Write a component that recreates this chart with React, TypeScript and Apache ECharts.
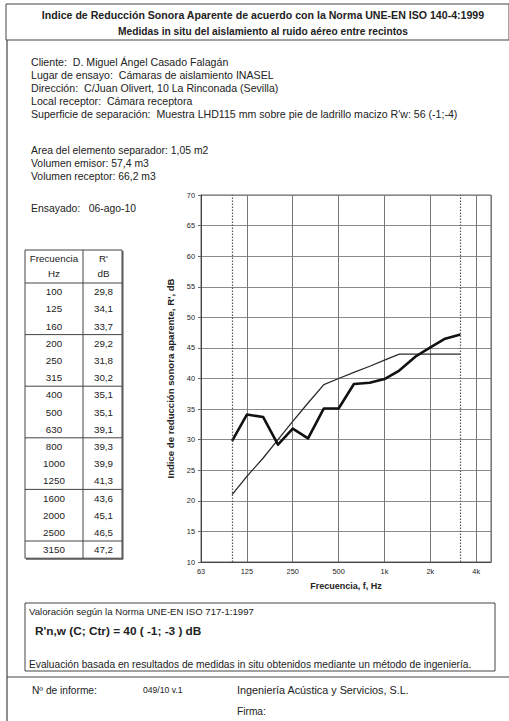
import React, { useEffect, useRef } from "react";
import * as echarts from "echarts";

const freqs = [100, 125, 160, 200, 250, 315, 400, 500, 630, 800, 1000, 1250, 1600, 2000, 2500, 3150];
const measured = [29.8, 34.1, 33.7, 29.2, 31.8, 30.2, 35.1, 35.1, 39.1, 39.3, 39.9, 41.3, 43.6, 45.1, 46.5, 47.2];
const reference = [21, 24, 27, 30, 33, 36, 39, 40, 41, 42, 43, 44, 44, 44, 44, 44];
const octaveLabels = ["63", "125", "250", "500", "1k", "2k", "4k"];
const rangeMarks = [100, 3150];

const titleLines = [
  "Indice de Reducción Sonora Aparente de acuerdo con la Norma UNE-EN ISO 140-4:1999",
  "Medidas in situ del aislamiento al ruido aéreo entre recintos",
];
const infoLines = [
  "Cliente:  D. Miguel Ángel Casado Falagán",
  "Lugar de ensayo:  Cámaras de aislamiento INASEL",
  "Dirección:  C/Juan Olivert, 10 La Rinconada (Sevilla)",
  "Local receptor:  Cámara receptora",
  "Superficie de separación:  Muestra LHD115 mm sobre pie de ladrillo macizo R'w: 56 (-1;-4)",
];
const volumeLines = [
  "Area del elemento separador: 1,05 m2",
  "Volumen emisor: 57,4 m3",
  "Volumen receptor: 66,2 m3",
];
const testDate = "Ensayado:   06-ago-10";

const FONT = "'Liberation Sans', Arial, sans-serif";
const INK = "#222";

const toX = (f: number) => Math.log2(f / 62.5);
const fmt = (v: number) => v.toFixed(1).replace(".", ",");

function txt(text: string, x: number, y: number, size: number, opts: any = {}) {
  return {
    type: "text",
    x,
    y,
    silent: true,
    style: {
      text,
      font: `${opts.bold ? "bold " : ""}${size}px ${FONT}`,
      fill: opts.fill || INK,
      align: opts.align || "left",
      verticalAlign: "middle",
    },
  };
}
function ln(x1: number, y1: number, x2: number, y2: number, w = 1, color = "#444") {
  return {
    type: "line",
    silent: true,
    shape: { x1, y1, x2, y2 },
    style: { stroke: color, lineWidth: w },
  };
}

export default function App() {
  const ref = useRef<HTMLDivElement>(null);
  useEffect(() => {
    if (!ref.current) return;
    const chart = echarts.init(ref.current, null, { renderer: "svg" });
    const g: any[] = [];
    // title box & page frame
    g.push({ type: "rect", silent: true, shape: { x: 6, y: 4, width: 503, height: 36 }, style: { fill: "none", stroke: "#444", lineWidth: 1 } });
    g.push(txt(titleLines[0], 263, 15, 10.6, { bold: true, align: "center" }));
    g.push(txt(titleLines[1], 263, 31, 10.2, { bold: true, align: "center" }));
    g.push(ln(7, 40, 7, 721, 1.2));
    infoLines.forEach((t, i) => g.push(txt(t, 31, 62 + i * 13, 10.6)));
    volumeLines.forEach((t, i) => g.push(txt(t, 31, 150 + i * 13, 10.4)));
    g.push(txt(testDate, 31, 208, 10.4));

    // table
    const tL = 25, tM = 83, tR = 122, tTop = 250, hBot = 283, rowH = 17.2;
    const tBot = hBot + rowH * freqs.length;
    const cF = (tL + tM) / 2, cR = (tM + tR) / 2 + 1;
    g.push({ type: "rect", silent: true, shape: { x: tL, y: tTop, width: tR - tL, height: tBot - tTop }, style: { fill: "none", stroke: "#444", lineWidth: 1 } });
    g.push(ln(tL + 1, tBot + 0.8, tR + 1, tBot + 0.8, 1.4, "#555"));
    g.push(ln(tR + 0.8, tTop + 1, tR + 0.8, tBot + 1, 1.4, "#555"));
    g.push(ln(tM, tTop, tM, tBot, 1));
    g.push(ln(tL, hBot, tR, hBot, 1));
    g.push(txt("Frecuencia", cF, 258, 9.8, { align: "center" }));
    g.push(txt("Hz", cF, 273, 9.8, { align: "center" }));
    g.push(txt("R'", cR, 258, 9.8, { align: "center" }));
    g.push(txt("dB", cR, 273, 9.8, { align: "center" }));
    freqs.forEach((f, i) => {
      const cy = hBot + rowH * (i + 0.5);
      g.push(txt(String(f), cF, cy, 9.8, { align: "center" }));
      g.push(txt(fmt(measured[i]), cR, cy, 9.8, { align: "center" }));
      if ((i + 1) % 3 === 0 && i < freqs.length - 1) g.push(ln(tL, hBot + rowH * (i + 1), tR, hBot + rowH * (i + 1), 1));
    });

    // bottom section
    g.push({ type: "rect", silent: true, shape: { x: 25, y: 603, width: 470, height: 68 }, style: { fill: "none", stroke: "#444", lineWidth: 1 } });
    g.push(txt("Valoración según la Norma UNE-EN ISO 717-1:1997", 29, 611, 9.6));
    g.push(txt("R'n,w (C; Ctr) = 40 ( -1; -3 ) dB", 35, 631, 11.8, { bold: true }));
    g.push(txt("Evaluación basada en resultados de medidas in situ obtenidos mediante un método de ingeniería.", 29, 664, 10.2));
    g.push(ln(7, 677, 509, 677, 1.2));
    g.push(txt("Nº de informe:", 32, 690, 10.2));
    g.push(txt("049/10 v.1", 143, 690, 8.6));
    g.push(txt("Ingeniería Acústica y Servicios, S.L.", 237, 690, 10.8));
    g.push(txt("Firma:", 237, 711, 10.2));

    chart.setOption({
      animation: false,
      backgroundColor: "#fff",
      textStyle: { fontFamily: FONT },
      grid: { left: 201, top: 195, width: 290, height: 367, show: true, borderColor: "#666", borderWidth: 1, backgroundColor: "transparent" },
      xAxis: {
        type: "value",
        min: 0,
        max: toX(5000),
        interval: 1,
        name: "Frecuencia, f, Hz",
        nameLocation: "middle",
        nameGap: 19,
        nameTextStyle: { fontFamily: FONT, fontSize: 9, fontWeight: "bold", color: INK },
        axisLine: { show: true, lineStyle: { color: "#444", width: 1 } },
        axisTick: { show: false },
        axisLabel: {
          fontFamily: FONT,
          fontSize: 7.4,
          color: INK,
          margin: 6,
          showMaxLabel: false,
          formatter: (v: number) => {
            const k = Math.round(v);
            return Math.abs(v - k) < 1e-6 && octaveLabels[k] ? octaveLabels[k] : "";
          },
        },
        splitLine: { show: true, lineStyle: { color: "#777", width: 1 } },
      },
      yAxis: {
        type: "value",
        min: 10,
        max: 70,
        interval: 5,
        name: "Indice de reducción sonora aparente, R', dB",
        nameLocation: "middle",
        nameGap: 22,
        nameTextStyle: { fontFamily: FONT, fontSize: 9.6, fontWeight: "bold", color: INK },
        axisLine: { show: true, lineStyle: { color: "#444", width: 1 } },
        axisTick: { show: true, length: 3, lineStyle: { color: "#666" } },
        axisLabel: { fontFamily: FONT, fontSize: 7.4, color: INK, margin: 6 },
        splitLine: { show: true, lineStyle: { color: "#8a8a8a", width: 1 } },
      },
      series: [
        {
          type: "line",
          name: "Referencia",
          data: freqs.map((f, i) => [toX(f), reference[i]]),
          symbol: "none",
          lineStyle: { color: "#2a2a2a", width: 1.3 },
          markLine: {
            silent: true,
            symbol: ["none", "none"],
            label: { show: false },
            lineStyle: { color: "#555", width: 1.2, type: [1.5, 1.5] },
            data: rangeMarks.map((f) => ({ xAxis: toX(f) })),
          },
        },
        {
          type: "line",
          name: "R'",
          data: freqs.map((f, i) => [toX(f), measured[i]]),
          symbol: "none",
          lineStyle: { color: "#111", width: 2.6, join: "round" },
        },
      ],
      graphic: g,
    });
    return () => chart.dispose();
  }, []);
  return (
    <div
      ref={ref}
      style={{ position: "fixed", left: 0, top: 0, width: 509, height: 721, background: "#fff" }}
    />
  );
}
